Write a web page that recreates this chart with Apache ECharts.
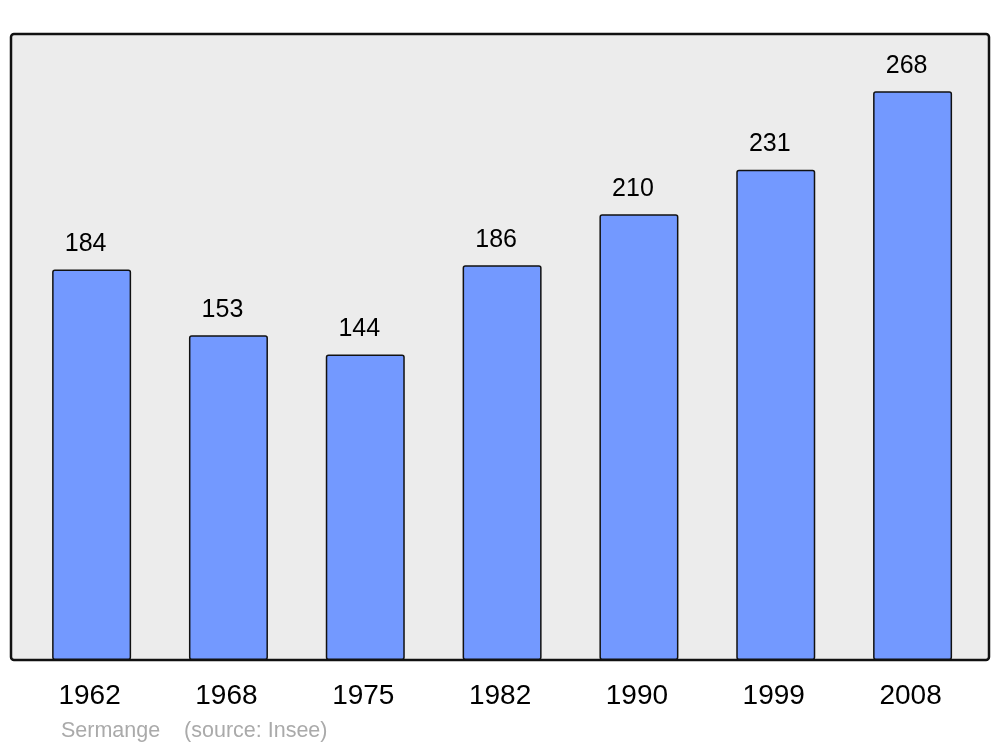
<!DOCTYPE html>
<html>
<head>
<meta charset="utf-8">
<script src="https://cdn.jsdelivr.net/npm/echarts@6/dist/echarts.min.js"></script>
<style>
  html, body { margin: 0; padding: 0; background: #fff; }
  #chart { width: 1000px; height: 747px; }
</style>
</head>
<body>
<div id="chart"></div>
<script>
var years = ['1962', '1968', '1975', '1982', '1990', '1999', '2008'];
var population = [184, 153, 144, 186, 210, 231, 268];

var chart = echarts.init(document.getElementById('chart'));

var option = {
  animation: false,
  backgroundColor: '#ffffff',
  grid: { left: 23.2, right: 19, top: 34, bottom: 87 },
  graphic: [
    {
      type: 'rect',
      z: -10,
      shape: { x: 11, y: 34, width: 978, height: 626, r: 3 },
      style: { fill: '#ececec', stroke: '#111111', lineWidth: 2.5 }
    },
    {
      type: 'text',
      left: 61,
      top: 720,
      style: {
        text: 'Sermange    (source: Insee)',
        fill: '#aaaaaa',
        font: '21.5px "Liberation Sans", Arial, sans-serif'
      }
    }
  ],
  xAxis: {
    type: 'category',
    data: years,
    axisLine: { show: false },
    axisTick: { show: false },
    axisLabel: {
      color: '#000',
      fontSize: 28,
      fontFamily: '"Liberation Sans", Arial, sans-serif',
      margin: 22,
      padding: [0, 4, 0, 0]
    }
  },
  yAxis: {
    type: 'value',
    min: 0,
    max: 295,
    show: false,
    splitLine: { show: false }
  },
  series: [{
    type: 'bar',
    data: population,
    barWidth: 79,
    itemStyle: {
      color: '#7399ff',
      borderColor: '#111111',
      borderWidth: 1.5,
      borderRadius: 2
    },
    label: {
      show: true,
      position: 'top',
      distance: 13,
      offset: [-6, 0],
      color: '#000',
      fontSize: 25,
      fontFamily: '"Liberation Sans", Arial, sans-serif'
    }
  }]
};

chart.setOption(option);
</script>
</body>
</html>
